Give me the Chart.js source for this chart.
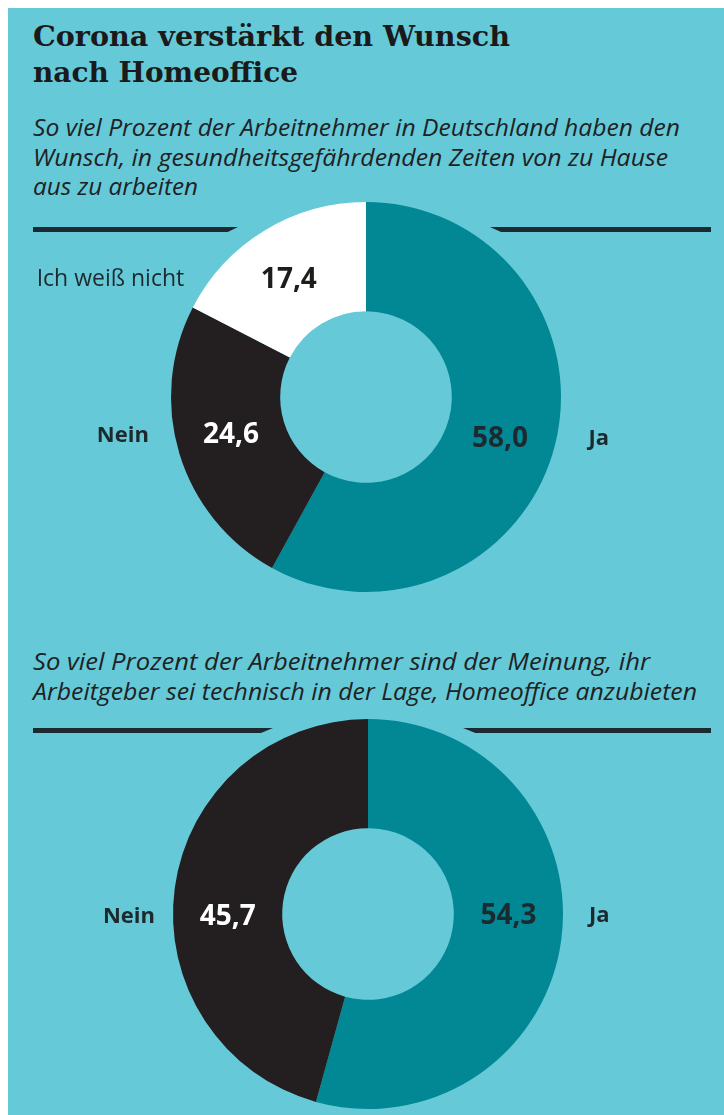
<!DOCTYPE html>
<html lang="de">
<head>
<meta charset="utf-8">
<script src="https://cdn.jsdelivr.net/npm/chart.js@4.4.1/dist/chart.umd.min.js"></script>
<style>
  html, body { margin: 0; padding: 0; background: #ffffff; }
  body { width: 724px; height: 1115px; position: relative; overflow: hidden; }
  #panel { position: absolute; left: 8px; top: 8px; right: 0; bottom: 0; background: #66c9d7; }
  .t { position: absolute; left: 33px; white-space: nowrap; transform-origin: 0 50%; color: #1b1b1b; }
  .title { font-family: "DejaVu Serif", serif; font-weight: bold; font-size: 27px; line-height: 27px; color: #1a1a1a; }
  .sub { font-family: "Open Sans", sans-serif; font-style: italic; font-size: 24px; line-height: 24px; color: #1e2224; }
  .rule { position: absolute; height: 5px; background: #1b2a30; }
  canvas { position: absolute; }
</style>
</head>
<body>
<div id="panel"></div>

<div class="t title" style="top:23px" data-w="477">Corona verstärkt den Wunsch</div>
<div class="t title" style="top:59px" data-w="265">nach Homeoffice</div>

<div class="t sub" style="top:115px" data-w="647">So viel Prozent der Arbeitnehmer in Deutschland haben den</div>
<div class="t sub" style="top:145px" data-w="635">Wunsch, in gesundheitsgefährdenden Zeiten von zu Hause</div>
<div class="t sub" style="top:174px" data-w="165">aus zu arbeiten</div>

<div class="rule" style="left:33px; top:227px; width:205px; clip-path: polygon(0 0,100% 0,95% 100%,0 100%);"></div>
<div class="rule" style="left:490px; top:227px; width:221px; clip-path: polygon(0 0,100% 0,100% 100%,5% 100%);"></div>

<div class="t sub" style="top:649px" data-w="617">So viel Prozent der Arbeitnehmer sind der Meinung, ihr</div>
<div class="t sub" style="top:679px" data-w="664">Arbeitgeber sei technisch in der Lage, Homeoffice anzubieten</div>

<div class="rule" style="left:33px; top:728px; width:240px; clip-path: polygon(0 0,100% 0,95% 100%,0 100%);"></div>
<div class="rule" style="left:463px; top:728px; width:248px; clip-path: polygon(0 0,100% 0,100% 100%,5% 100%);"></div>

<canvas id="c1" width="716" height="415" style="left:8px; top:195px; width:716px; height:415px;"></canvas>
<canvas id="c2" width="716" height="415" style="left:8px; top:700px; width:716px; height:415px;"></canvas>

<script>
// ---- Data ----
const wishCategories = ['Ja', 'Nein', 'Ich weiß nicht'];
const wishValues = [58.0, 24.6, 17.4];

const techCategories = ['Ja', 'Nein'];
const techValues = [54.3, 45.7];

// ---- Styles ----
const TEAL = '#028794';
const BLACK = '#231f20';
const WHITE = '#ffffff';
const DARK_TEXT = '#1c2a2f';

// Fit text lines to their measured widths in the reference
document.querySelectorAll('.t[data-w]').forEach(el => {
  const w = el.getBoundingClientRect().width;
  const target = parseFloat(el.dataset.w);
  el.style.transform = 'scaleX(' + (target / w) + ')';
});

const fmt = v => v.toFixed(1).replace('.', ',');

const donutLabels = {
  id: 'donutLabels',
  afterDatasetsDraw(chart, args, opts) {
    const ctx = chart.ctx;
    const meta = chart.getDatasetMeta(0);
    const ds = chart.data.datasets[0];
    const labels = chart.data.labels;
    meta.data.forEach((arc, i) => {
      const p = arc.getProps(['x', 'y', 'startAngle', 'endAngle', 'innerRadius', 'outerRadius'], true);
      const nudge = ((opts.angleNudge || [])[i] || 0) * Math.PI / 180;
      const mid = (p.startAngle + p.endAngle) / 2 + nudge;
      const rMid = (p.innerRadius + p.outerRadius) / 2;
      const lx = p.x + Math.cos(mid) * rMid;
      const ly = p.y + Math.sin(mid) * rMid + (opts.dy || 0);
      ctx.save();
      ctx.textBaseline = 'middle';
      ctx.textAlign = 'center';
      ctx.font = 'bold 28px "Open Sans", sans-serif';
      ctx.fillStyle = opts.valueColors[i];
      ctx.fillText(fmt(ds.data[i]), lx, ly);
      // category label outside the ring, on the same row
      const dyc = ly - p.y;
      const half = Math.sqrt(Math.max(p.outerRadius * p.outerRadius - dyc * dyc, 0));
      const left = lx < p.x;
      const weight = opts.catWeights[i] || 'bold';
      ctx.font = weight + (weight === 'bold' ? ' 22px' : ' 23px') + ' "Open Sans", sans-serif';
      ctx.fillStyle = DARK_TEXT;
      ctx.textAlign = left ? 'right' : 'left';
      const cx = left ? p.x - half - opts.gapLeft : p.x + half + opts.gapRight;
      ctx.fillText(labels[i], cx, ly);
      ctx.restore();
    });
  }
};

function makeDonut(id, cats, vals, colors, pad, pluginOpts) {
  return new Chart(document.getElementById(id), {
    type: 'doughnut',
    data: {
      labels: cats,
      datasets: [{ data: vals, backgroundColor: colors, borderWidth: 0, hoverOffset: 0 }]
    },
    options: {
      responsive: false,
      animation: false,
      cutout: '44%',
      layout: { padding: pad },
      plugins: {
        legend: { display: false },
        tooltip: { enabled: false },
        donutLabels: pluginOpts
      },
      events: []
    },
    plugins: [donutLabels]
  });
}

makeDonut('c1', wishCategories, wishValues, [TEAL, BLACK, WHITE],
  { left: 163, right: 163, top: 7, bottom: 18 },
  { valueColors: [DARK_TEXT, '#ffffff', '#1d1d1b'], catWeights: ['bold', 'bold', 'normal'],
    angleNudge: [3, 1, -2], gapLeft: 26, gapRight: 32 });

makeDonut('c2', techCategories, techValues, [TEAL, BLACK],
  { left: 165, right: 161, top: 19, bottom: 6 },
  { valueColors: [DARK_TEXT, '#ffffff'], catWeights: ['bold', 'bold'],
    angleNudge: [-7, -9], gapLeft: 18, gapRight: 26 });
</script>
</body>
</html>
